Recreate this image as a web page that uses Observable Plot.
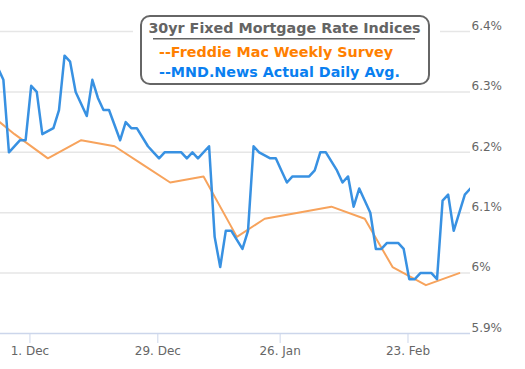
<!DOCTYPE html>
<html>
<head>
<meta charset="utf-8">
<script src="https://cdn.jsdelivr.net/npm/d3@7"></script>
<script src="https://cdn.jsdelivr.net/npm/@observablehq/plot@0.6"></script>
<style>
  html, body { margin: 0; padding: 0; background: #fff; }
  #chart { width: 525px; height: 369px; }
</style>
</head>
<body>
<div id="chart"></div>
<script>
// Freddie Mac weekly survey (release dates)
const fredDates = ["2025-11-20","2025-11-26","2025-12-04","2025-12-11","2025-12-18","2025-12-24","2025-12-31",
  "2026-01-08","2026-01-15","2026-01-22","2026-01-29","2026-02-05","2026-02-12","2026-02-19","2026-02-26","2026-03-05"];
const fredRates = [6.26,6.23,6.19,6.22,6.21,6.18,6.15,6.16,6.06,6.09,6.10,6.11,6.09,6.01,5.98,6.00];

// MND daily index (business days)
const mndDates = ["2025-11-21","2025-11-24","2025-11-25","2025-11-26","2025-11-28",
  "2025-12-01","2025-12-02","2025-12-03","2025-12-04","2025-12-05",
  "2025-12-08","2025-12-09","2025-12-10","2025-12-11","2025-12-12",
  "2025-12-15","2025-12-16","2025-12-17","2025-12-18","2025-12-19",
  "2025-12-22","2025-12-23","2025-12-24","2025-12-26",
  "2025-12-29","2025-12-30","2025-12-31","2026-01-02",
  "2026-01-05","2026-01-06","2026-01-07","2026-01-08","2026-01-09",
  "2026-01-12","2026-01-13","2026-01-14","2026-01-15","2026-01-16",
  "2026-01-20","2026-01-21","2026-01-22","2026-01-23",
  "2026-01-26","2026-01-27","2026-01-28","2026-01-29","2026-01-30",
  "2026-02-02","2026-02-03","2026-02-04","2026-02-05","2026-02-06",
  "2026-02-09","2026-02-10","2026-02-11","2026-02-12","2026-02-13",
  "2026-02-17","2026-02-18","2026-02-19","2026-02-20",
  "2026-02-23","2026-02-24","2026-02-25","2026-02-26","2026-02-27",
  "2026-03-02","2026-03-03","2026-03-04","2026-03-05","2026-03-06"];
const mndRates = [6.34,6.32,6.20,6.22,6.22,
  6.31,6.30,6.23,6.24,6.27,
  6.36,6.35,6.30,6.26,6.32,
  6.29,6.27,6.27,6.22,6.25,
  6.24,6.24,6.21,6.20,
  6.19,6.20,6.20,6.20,
  6.19,6.20,6.19,6.21,6.06,
  6.01,6.07,6.07,6.04,6.07,
  6.21,6.20,6.19,6.19,
  6.17,6.15,6.16,6.16,6.16,
  6.17,6.20,6.20,6.17,6.15,
  6.16,6.11,6.14,6.10,6.04,
  6.04,6.05,6.05,6.04,
  5.99,5.99,6.00,6.00,5.99,
  6.12,6.13,6.07,6.13,6.14];

const tickDates = ["2025-12-01","2025-12-29","2026-01-26","2026-02-23"];
const tickLabels = ["1. Dec","29. Dec","26. Jan","23. Feb"];
const yTicks = [5.9, 6.0, 6.1, 6.2, 6.3, 6.4];
const yTickLabels = ["5.9%","6%","6.1%","6.2%","6.3%","6.4%"];

const legendTitle = "30yr Fixed Mortgage Rate Indices";
const legendFred = "--Freddie Mac Weekly Survey";
const legendMnd = "--MND.News Actual Daily Avg.";

// Ordinal (stock-chart style) x positions: each data timestamp is one slot
const HOUR = 3600e3;
const fredT = fredDates.map(d => Date.parse(d));
const mndT = mndDates.map(d => Date.parse(d) + 16 * HOUR);
const slots = Array.from(new Set([...fredT, ...mndT])).sort((a, b) => a - b);
function ord(t) {
  let i = d3.bisectRight(slots, t) - 1;
  if (i < 0) return 0;
  if (i >= slots.length - 1) return slots.length - 1;
  return i + (t - slots[i]) / (slots[i + 1] - slots[i]);
}
const fred = fredDates.map((d, i) => ({x: ord(fredT[i]), y: fredRates[i]}));
const mnd = mndDates.map((d, i) => ({x: ord(mndT[i]), y: mndRates[i]}));
const tickPos = tickDates.map(d => ord(Date.parse(d)));

const iStart = ord(Date.parse("2025-12-01") + 16 * HOUR) - 5.52;
const iEnd = mnd[mnd.length - 1].x + 0.02;

const chart = Plot.plot({
  width: 525,
  height: 369,
  marginLeft: 0,
  marginRight: 55,
  marginTop: 31,
  marginBottom: 36,
  style: {fontFamily: "DejaVu Sans", fontSize: "12px", background: "#fff", color: "#666"},
  x: {domain: [iStart, iEnd]},
  y: {domain: [5.9, 6.4]},
  marks: [
    Plot.gridY(yTicks.slice(1), {stroke: "#e6e6e6", strokeOpacity: 1, strokeWidth: 1.5}),
    Plot.axisY(yTicks, {
      anchor: "right", tickSize: 0, tickPadding: 1, textAnchor: "start",
      tickFormat: (d, i) => yTickLabels[i], fill: "#666", fontSize: 12, dy: -5.5, label: null
    }),
    Plot.ruleY([5.9], {stroke: "#ccd6eb", strokeWidth: 1.5}),
    Plot.axisX(tickPos, {
      anchor: "bottom", tickSize: 10, tickPadding: 3, stroke: "#ccd6eb",
      tickFormat: (d, i) => tickLabels[i], fill: "#666", fontSize: 12, label: null
    }),
    Plot.line(fred, {x: "x", y: "y", stroke: "#f7a35c", strokeWidth: 2, clip: true}),
    Plot.line(mnd, {x: "x", y: "y", stroke: "#3891e2", strokeWidth: 2.5, clip: true})
  ]
});
document.getElementById("chart").appendChild(chart);

// Legend box overlay
const svg = d3.select(chart);
const g = svg.append("g").attr("font-family", "DejaVu Sans").attr("font-weight", "bold")
  .attr("font-size", 14.3).attr("text-anchor", "start");
g.append("rect").attr("x", 133).attr("y", 6).attr("width", 307).attr("height", 82).attr("fill", "#fff");
g.append("rect").attr("x", 141).attr("y", 16).attr("width", 288).attr("height", 68).attr("rx", 9)
  .attr("fill", "#fff").attr("stroke", "#666").attr("stroke-width", 2);
g.append("text").attr("x", 284.5).attr("y", 33.3).attr("text-anchor", "middle").attr("fill", "#646464").text(legendTitle);
g.append("line").attr("x1", 153).attr("x2", 415).attr("y1", 38.8).attr("y2", 38.8).attr("stroke", "#646464").attr("stroke-width", 1.4);
g.append("text").attr("x", 159).attr("y", 56.7).attr("text-anchor", "start").attr("fill", "#ff8000").text(legendFred);
g.append("text").attr("x", 159).attr("y", 76.7).attr("text-anchor", "start").attr("fill", "#0a7ff0").text(legendMnd);
</script>
</body>
</html>
